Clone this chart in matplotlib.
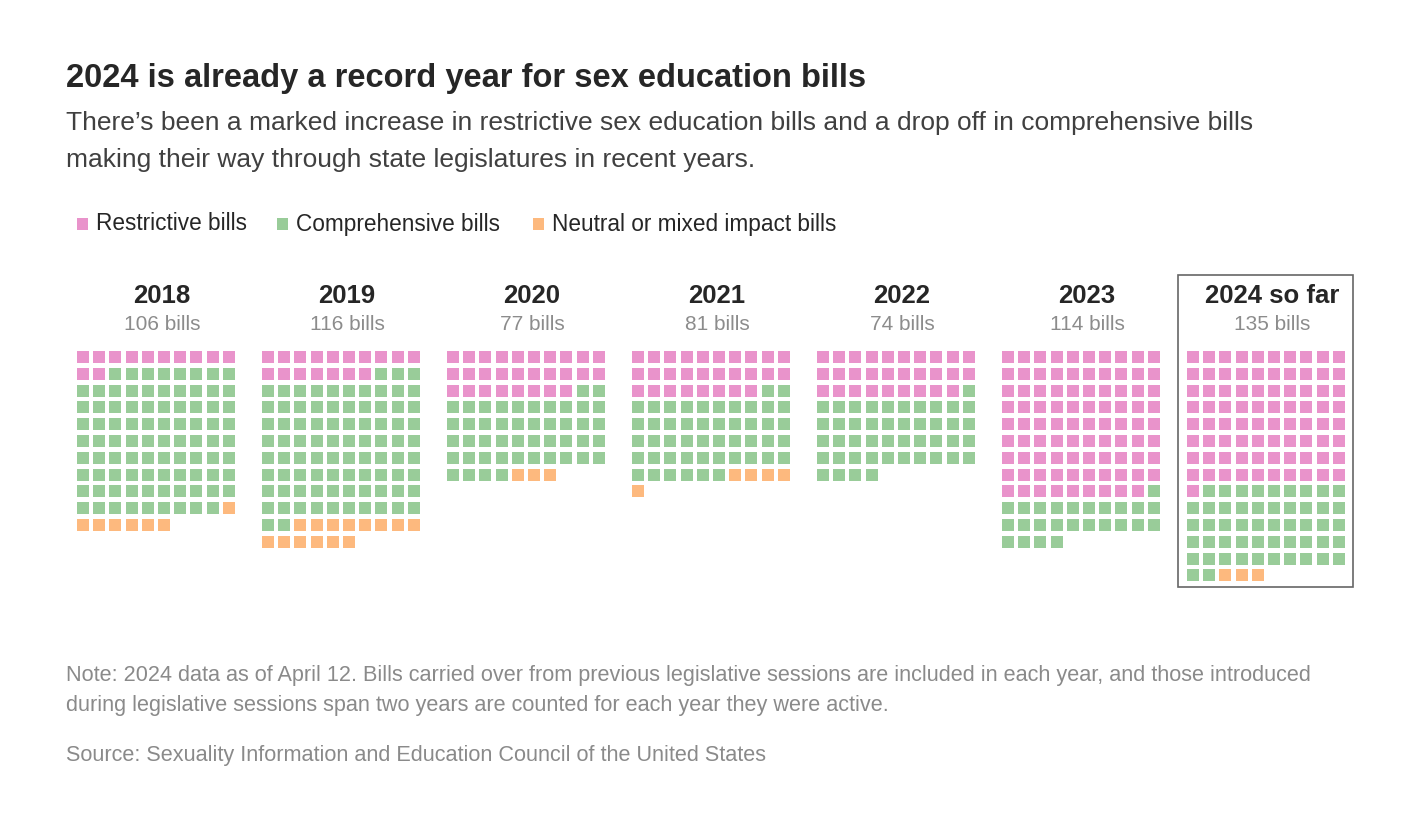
import matplotlib
matplotlib.use('Agg')
import matplotlib.pyplot as plt
from matplotlib.patches import Rectangle

years = ['2018', '2019', '2020', '2021', '2022', '2023', '2024 so far']
totals = [106, 116, 77, 81, 74, 114, 135]
restrictive = [12, 17, 28, 28, 29, 89, 81]
comprehensive = [87, 85, 46, 48, 45, 25, 51]
neutral = [7, 14, 3, 5, 0, 0, 3]

labels = ['Restrictive bills', 'Comprehensive bills', 'Neutral or mixed impact bills']
colors = ['#e993cb', '#99cc99', '#fdb97e']

FONT = 'Liberation Sans'

fig = plt.figure(figsize=(14.2, 8.32), dpi=100)
ax = fig.add_axes([0, 0, 1, 1])
ax.set_xlim(0, 1420)
ax.set_ylim(832, 0)
ax.axis('off')

# header texts
ax.text(66, 78, '2024 is already a record year for sex education bills', fontsize=23.5,
        fontweight='bold', color='#262626', family=FONT, va='center')
ax.text(66, 123, 'There\u2019s been a marked increase in restrictive sex education bills and a drop off in comprehensive bills',
        fontsize=19, color='#404040', family=FONT, va='center')
ax.text(66, 160, 'making their way through state legislatures in recent years.',
        fontsize=19, color='#404040', family=FONT, va='center')

# legend
leg_x = [77, 277, 533]
for lx, lab, c in zip(leg_x, labels, colors):
    ax.add_patch(Rectangle((lx, 218), 11, 12, color=c, lw=0))
    ax.text(lx + 19, 224, lab, fontsize=16.3, color='#262626', family=FONT, va='center')

# waffles, 10 squares per row
left0, group_w = 77, 185
px, py, sq = 16.2, 16.8, 12
top = 351
for g, yr in enumerate(years):
    left = left0 + g * group_w
    cats = [c for c, n in zip(colors, [restrictive[g], comprehensive[g], neutral[g]]) for _ in range(n)]
    for i, c in enumerate(cats):
        col, row = i % 10, i // 10
        ax.add_patch(Rectangle((left + col * px, top + row * py), sq, sq, color=c, lw=0))
    cx = left + 85
    ax.text(cx, 296, yr, fontsize=18.5, fontweight='bold', color='#262626', family=FONT,
            ha='center', va='center')
    ax.text(cx, 325, f'{totals[g]} bills', fontsize=15, color='#8c8c8c', family=FONT,
            ha='center', va='center')

# box around 2024
ax.add_patch(Rectangle((1178, 275), 175, 312, fill=False, ec='#666666', lw=1.2))

# notes
ax.text(66, 675, 'Note: 2024 data as of April 12. Bills carried over from previous legislative sessions are included in each year, and those introduced',
        fontsize=15.6, color='#8a8a8a', family=FONT, va='center')
ax.text(66, 705, 'during legislative sessions span two years are counted for each year they were active.',
        fontsize=15.6, color='#8a8a8a', family=FONT, va='center')
ax.text(66, 755, 'Source: Sexuality Information and Education Council of the United States',
        fontsize=15.6, color='#8a8a8a', family=FONT, va='center')

fig.savefig('out.png', dpi=100, facecolor='white')
